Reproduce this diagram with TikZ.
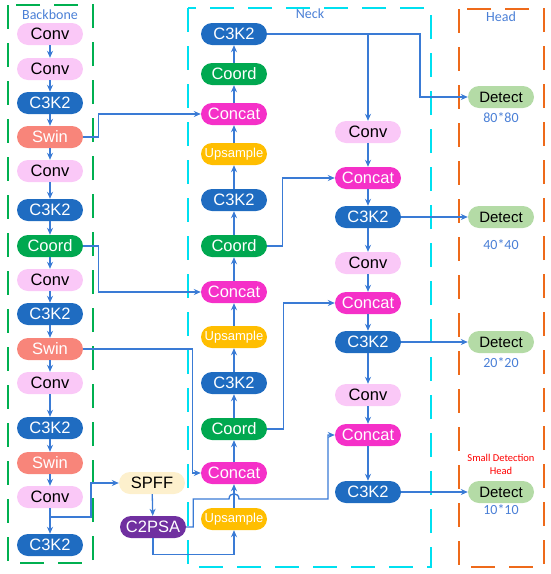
\documentclass[tikz,border=0pt]{standalone}
\usepackage{xcolor}
\usepackage{fontspec}
\setmainfont{Liberation Sans}
\newfontfamily\lblfont{Carlito}
\usepackage{tikz}
\usetikzlibrary{arrows.meta, positioning}
\definecolor{convpink}{HTML}{FAC8F7}
\definecolor{c3blue}{HTML}{1F6CC1}
\definecolor{swinred}{HTML}{F8857A}
\definecolor{coordgreen}{HTML}{00A850}
\definecolor{catpink}{HTML}{F530C8}
\definecolor{upgold}{HTML}{FFBE00}
\definecolor{spffcream}{HTML}{FDF0CD}
\definecolor{psapurple}{HTML}{7030A0}
\definecolor{detgreen}{HTML}{B4DBA6}
\definecolor{lineblue}{HTML}{3A7BD5}
\definecolor{bbgreen}{HTML}{00B050}
\definecolor{neckcyan}{HTML}{00E0F0}
\definecolor{headorange}{HTML}{EE6A1A}
\definecolor{tagblue}{HTML}{4A7FD6}
\tikzset{
  blk/.style={rectangle, rounded corners=11pt, minimum width=66pt,
              minimum height=22pt, inner sep=0pt, font=\fontsize{16.5}{18}\selectfont},
  conv/.style={blk, fill=convpink, text=black},
  c3k/.style={blk, fill=c3blue, text=white},
  swin/.style={blk, fill=swinred, text=white},
  coord/.style={blk, fill=coordgreen, text=white},
  concat/.style={blk, fill=catpink, text=white},
  ups/.style={blk, fill=upgold, text=white, font=\fontsize{13}{15}\selectfont},
  spff/.style={blk, fill=spffcream, text=black},
  psa/.style={blk, fill=psapurple, text=white},
  det/.style={blk, fill=detgreen, text=black, font=\fontsize{15}{17}\selectfont},
  frame/.style={line width=2pt, dash pattern=on 24pt off 14pt},
  tag/.style={text=tagblue, font=\lblfont\fontsize{14}{16}\selectfont},
  warn/.style={text=red, align=center, font=\lblfont\fontsize{10.5}{13}\selectfont},
  flow/.style={-{Stealth[length=7pt, width=6pt]}, line width=1.3pt, draw=lineblue}
}
\begin{document}
\begin{tikzpicture}[x=1pt, y=-1pt]
\useasboundingbox (0,0) rectangle (550,574);
% frames
\draw[frame, draw=bbgreen] (8,5) rectangle (93,563);
\draw[frame, draw=neckcyan] (188,8) rectangle (431,567);
\draw[frame, draw=headorange] (459,9) rectangle (544,567);
\node[tag] at (50,15) {Backbone};
\node[tag] at (310,14) {Neck};
\node[tag] at (501,17) {Head};

% backbone
\node[conv] (b1) at (50,34) {Conv};
\node[conv] (b2) at (50,69) {Conv};
\node[c3k] (b3) at (50,103) {C3K2};
\node[swin] (b4) at (50,137) {Swin};
\node[conv] (b5) at (50,171) {Conv};
\node[c3k] (b6) at (50,210) {C3K2};
\node[coord] (b7) at (50,246) {Coord};
\node[conv] (b8) at (50,280) {Conv};
\node[c3k] (b9) at (50,314) {C3K2};
\node[swin] (b10) at (50,349) {Swin};
\node[conv] (b11) at (50,383) {Conv};
\node[c3k] (b12) at (50,428) {C3K2};
\node[swin] (b13) at (50,463) {Swin};
\node[conv] (b14) at (50,497) {Conv};
\node[c3k] (b15) at (50,545) {C3K2};
\foreach \i [count=\j from 2] in {1,...,14}
  \draw[flow] (b\i) -- (b\j);

\node[spff] (sp) at (152,483) {SPFF};
\node[psa] (ps) at (153,527) {C2PSA};

% neck, upward path
\node[c3k] (n1) at (234,34) {C3K2};
\node[coord] (n2) at (234,74) {Coord};
\node[concat] (n3) at (234,114) {Concat};
\node[ups] (n4) at (234,154) {Upsample};
\node[c3k] (n5) at (234,200) {C3K2};
\node[coord] (n6) at (234,246) {Coord};
\node[concat] (n7) at (234,292) {Concat};
\node[ups] (n8) at (234,337) {Upsample};
\node[c3k] (n9) at (234,383) {C3K2};
\node[coord] (n10) at (234,429) {Coord};
\node[concat] (n11) at (234,473) {Concat};
\node[ups] (n12) at (234,519) {Upsample};
\foreach \i [count=\j from 2] in {1,...,11}
  \draw[flow] (n\j) -- (n\i);

% neck, downward path
\node[conv] (m1) at (368,132) {Conv};
\node[concat] (m2) at (368,178) {Concat};
\node[c3k] (m3) at (368,217) {C3K2};
\node[conv] (m4) at (368,263) {Conv};
\node[concat] (m5) at (368,303) {Concat};
\node[c3k] (m6) at (368,342) {C3K2};
\node[conv] (m7) at (368,395) {Conv};
\node[concat] (m8) at (368,435) {Concat};
\node[c3k] (m9) at (368,492) {C3K2};
\foreach \i [count=\j from 2] in {1,...,8}
  \draw[flow] (m\i) -- (m\j);

% head
\node[det] (d1) at (501,97) {Detect};
\node[det] (d2) at (501,217) {Detect};
\node[det] (d3) at (501,342) {Detect};
\node[det] (d4) at (501,492) {Detect};
\node[tag] at (501,118) {80*80};
\node[tag] at (501,245) {40*40};
\node[tag] at (501,363) {20*20};
\node[tag] at (501,510) {10*10};
\node[warn] at (501,464) {Small Detection\\Head};

% skip links
\draw[flow] (b4.east) -- ++(15,0) |- (n3.west);
\draw[flow] (b7.east) -- ++(15,0) |- (n7.west);
\draw[flow] (b10.east) -- ++(109,0) |- (n11.west);
\coordinate (fork) at (50,517);
\draw[flow] (fork) -- ++(41,0) |- (sp.west);
\draw[flow] (sp) -- (ps);
\draw[flow] (ps.south) -- ++(0,16) -| (n12.south);
\draw[flow] (ps.east) -- ++(7,0) |- (229,499)
  .. controls (229,492) and (239,492) .. (239,499) -| (328,435) -- (m8.west);
\draw[flow] (n1.east) -- (420,34) |- (d1.west);
\draw[flow] (n1.east -| m1) -- (m1);
\draw[flow] (n6.east) -- ++(15,0) |- (m2.west);
\draw[flow] (n10.east) -- ++(16,0) |- (m5.west);
\draw[flow] (m3) -- (d2);
\draw[flow] (m6) -- (d3);
\draw[flow] (m9) -- (d4);
\end{tikzpicture}
\end{document}
